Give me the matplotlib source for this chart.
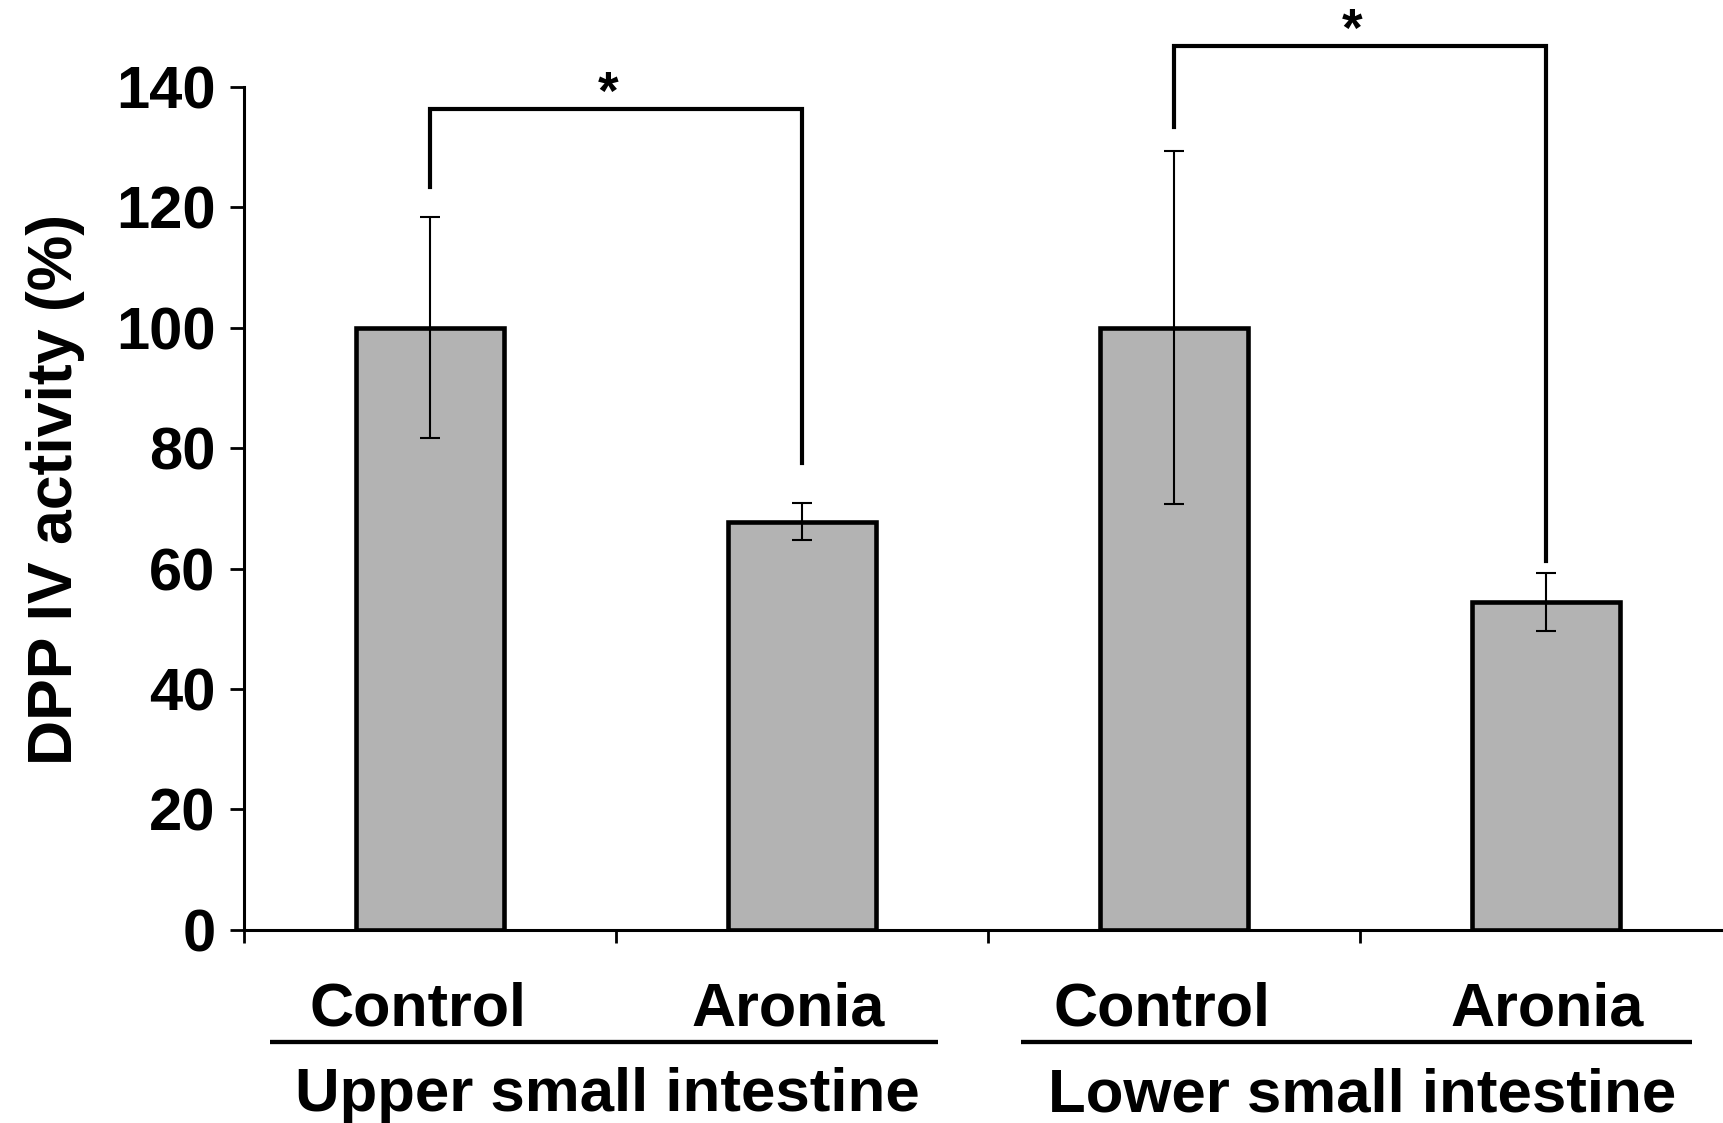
import matplotlib
matplotlib.use("Agg")
import matplotlib.pyplot as plt
import numpy as np

# ---- data ----
categories = ["Control", "Aronia", "Control", "Aronia"]
groups = ["Upper small intestine", "Lower small intestine"]
means = [100.0, 67.8, 100.0, 54.4]
errors = [18.4, 3.1, 29.3, 4.8]
# significance brackets: (left bar, right bar, top, left leg bottom, right leg bottom, label)
brackets = [
    (0, 1, 136.3, 123.3, 77.6, "*"),
    (2, 3, 146.8, 133.4, 61.2, "*"),
]
yticks = [0, 20, 40, 60, 80, 100, 120, 140]
ylabel = "DPP IV activity (%)"

plt.rcParams['font.family'] = ['Liberation Sans', 'DejaVu Sans']
plt.rcParams['font.weight'] = 'bold'

W, H = 1724, 1123
fig = plt.figure(figsize=(W / 100, H / 100), dpi=100)
x0, unit = 244, 372.0
y0, ytop = 929.8, 86.8
ax = fig.add_axes([x0 / W, 1 - y0 / H, 4 * unit / W, (y0 - ytop) / H])

xpos = np.arange(len(means)) + 0.5
ax.bar(xpos, means, width=0.4, color='#b3b3b3', edgecolor='black',
       linewidth=3.3, zorder=2)
ax.errorbar(xpos, means, yerr=errors, fmt='none', ecolor='black',
            elinewidth=1.5, capsize=7.2, capthick=1.5, zorder=3)

ax.set_xlim(0, 4)
ax.set_ylim(0, 140)
ax.set_yticks(yticks)
ax.set_yticklabels([str(t) for t in yticks], fontsize=43, fontweight='bold')
ax.set_xticks([0, 1, 2, 3, 4])
ax.set_xticklabels([])
ax.tick_params(axis='y', direction='out', length=10.4, width=2, pad=10)
ax.tick_params(axis='x', direction='out', length=9, width=2)
for s in ['top', 'right']:
    ax.spines[s].set_visible(False)
for s in ['left', 'bottom']:
    ax.spines[s].set_linewidth(2.2)

# brackets
for (i, j, top, lb, rb, lab) in brackets:
    xl, xr = xpos[i], xpos[j]
    ax.plot([xl, xl, xr, xr], [lb, top, top, rb], color='black',
            linewidth=3.0, clip_on=False, zorder=4, solid_joinstyle='miter')
    ax.text((xl + xr) / 2 - 0.02, top, lab, ha='center', va='baseline',
            fontsize=38, fontweight='bold', clip_on=False)

# category labels
trans = ax.get_xaxis_transform()
label_shift = [-0.033, -0.038, -0.032, 0.004]
for x, c, dx in zip(xpos, categories, label_shift):
    ax.text(x + dx, (y0 - 1025.7) / (y0 - ytop), c, transform=trans,
            ha='center', va='baseline', fontsize=44, fontweight='bold')

# group underlines and labels
line_y = (y0 - 1042.2) / (y0 - ytop)
group_y = (y0 - 1111) / (y0 - ytop)
line_spans = [(0.069, 1.866), (2.089, 3.892)]
group_centers = [0.976, 3.005]
for (a, b), gc, g in zip(line_spans, group_centers, groups):
    ax.plot([a, b], [line_y, line_y], transform=trans, color='black',
            linewidth=3.1, clip_on=False, solid_capstyle='butt')
    ax.text(gc, group_y, g, transform=trans, ha='center', va='baseline',
            fontsize=44.5, fontweight='bold')

fig.text(56 / W, 1 - 489 / H, ylabel, rotation=90, ha='center', va='center',
         fontsize=45, fontweight='bold')

fig.savefig("out.png", dpi=100)
